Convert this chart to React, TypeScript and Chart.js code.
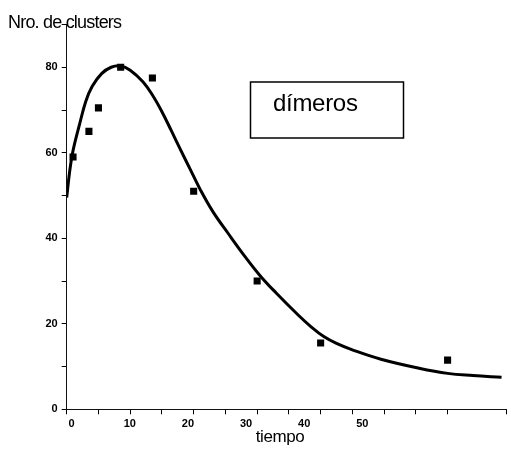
import React, { useEffect, useRef } from "react";
import { Chart, registerables } from "chart.js";

Chart.register(...registerables);

// Measured data (squares)
const dataX = [1, 3.5, 5, 8.5, 13.5, 20, 30, 40, 60];
const dataY = [59, 65, 70.5, 80, 77.5, 51, 30, 15.5, 11.5];

// Fitted curve
const curveX = [0, 0.5, 1, 2, 3, 4, 5.5, 7, 8.5, 10, 12, 13.5, 15, 16.5, 18, 19.5, 21, 23, 25.5, 28, 30.5, 33, 36.5, 38.5, 40.5, 42.5, 45, 49.5, 55.5, 60, 64, 68.5];
const curveY = [49.5, 56, 60.5, 66.5, 72, 75.5, 78.5, 80, 80.3, 79.3, 76.6, 73.5, 69.6, 65.1, 60.5, 56, 51.5, 46.3, 41, 35.9, 31.2, 27.2, 22, 19.3, 17, 15.4, 13.9, 11.7, 9.6, 8.4, 7.9, 7.5];

// Tick labels
const xTickLabels = [0, 10, 20, 30, 40, 50];
const yTickLabels = [0, 20, 40, 60, 80];

const yTitle = "Nro. de clusters";
const xTitle = "tiempo";
const legendText = "dímeros";

const FONT = '"Liberation Sans", Arial, sans-serif';

const textPlugin = {
  id: "textPlugin",
  afterDraw(chart: any) {
    const ctx = chart.ctx as CanvasRenderingContext2D;
    ctx.save();
    ctx.fillStyle = "#000";
    ctx.strokeStyle = "#000";
    ctx.textBaseline = "alphabetic";
    ctx.textAlign = "left";
    ctx.font = `18px ${FONT}`;
    (ctx as any).letterSpacing = "-0.8px";
    ctx.fillText(yTitle, 8, 28);
    ctx.font = `17px ${FONT}`;
    (ctx as any).letterSpacing = "-0.4px";
    ctx.textAlign = "center";
    ctx.fillText(xTitle, 280, 442);
    ctx.lineWidth = 1.5;
    ctx.strokeRect(250.5, 82, 153, 56);
    ctx.textAlign = "left";
    ctx.font = `24px ${FONT}`;
    (ctx as any).letterSpacing = "-0.3px";
    ctx.fillText(legendText, 273, 111);
    ctx.restore();
  },
};

export default function App() {
  const ref = useRef<HTMLCanvasElement | null>(null);
  useEffect(() => {
    if (!ref.current) return;
    const chart = new Chart(ref.current, {
      type: "scatter",
      data: {
        datasets: [
          {
            label: "curve",
            data: curveX.map((x, i) => ({ x, y: curveY[i] })),
            showLine: true,
            borderColor: "#000",
            borderWidth: 3,
            pointRadius: 0,
            tension: 0.4,
            xAxisID: "x",
            yAxisID: "y",
          } as any,
          {
            label: legendText,
            data: dataX.map((x, i) => ({ x, y: dataY[i] })),
            showLine: false,
            pointStyle: "rect",
            pointRadius: 5,
            backgroundColor: "#000",
            borderColor: "#000",
            borderWidth: 0,
            xAxisID: "x",
            yAxisID: "y",
          } as any,
        ],
      },
      options: {
        animation: false,
        responsive: true,
        maintainAspectRatio: false,
        layout: { padding: { left: 0, right: 1, top: 24.5, bottom: 0 } },
        plugins: { legend: { display: false }, tooltip: { enabled: false } },
        scales: {
          x: {
            type: "linear",
            position: "bottom",
            min: 0,
            max: 69.2,
            weight: 1,
            ticks: { display: false, stepSize: 5 },
            grid: { drawOnChartArea: false, drawTicks: true, tickLength: 5, color: "#000", lineWidth: 1 },
            border: { display: true, color: "#111", width: 1 },
            afterFit: (s: any) => {
              s.height = 5;
            },
          },
          x2: {
            type: "linear",
            position: "bottom",
            min: -0.85,
            max: 74.72,
            weight: 2,
            afterBuildTicks: (s: any) => {
              s.ticks = xTickLabels.map((v) => ({ value: v }));
            },
            ticks: {
              padding: 3.5,
              color: "#000",
              font: { family: FONT, size: 11, weight: "bold" },
              callback: (v: any) => String(v),
              maxRotation: 0,
              autoSkip: false,
            },
            grid: { display: false, drawTicks: false },
            border: { display: false },
            afterFit: (s: any) => {
              s.height = 60.7;
            },
          },
          y: {
            type: "linear",
            min: 0,
            max: 90,
            ticks: {
              stepSize: 10,
              padding: 4,
              color: "#000",
              font: { family: FONT, size: 11, weight: "bold" },
              callback: (v: any) => (yTickLabels.includes(Number(v)) ? String(v) : ""),
              autoSkip: false,
            },
            grid: { drawOnChartArea: false, drawTicks: true, tickLength: 5, color: "#000", lineWidth: 1 },
            border: { display: true, color: "#111", width: 1 },
            afterFit: (s: any) => {
              s.width = 66.7;
            },
          },
        },
      } as any,
      plugins: [textPlugin],
    });
    return () => chart.destroy();
  }, []);
  return (
    <div style={{ position: "fixed", left: 0, top: 0, width: 511, height: 475, background: "#fff" }}>
      <canvas ref={ref} />
    </div>
  );
}
